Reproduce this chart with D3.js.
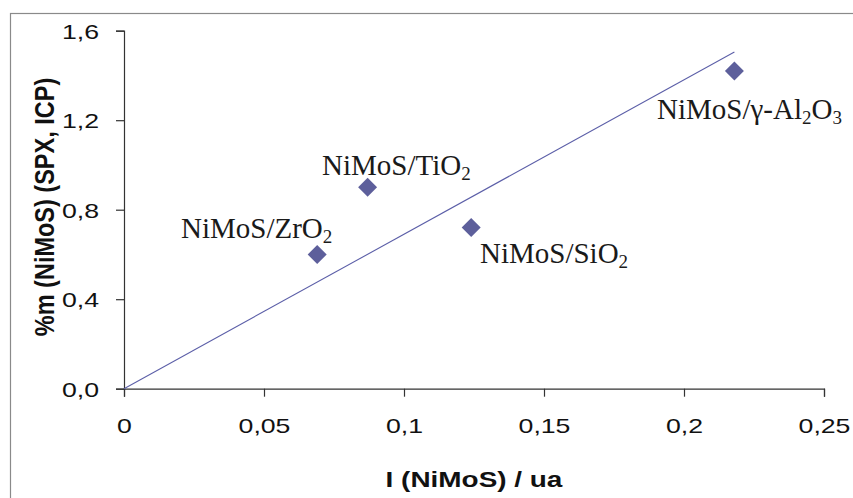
<!DOCTYPE html>
<html><head><meta charset="utf-8">
<script src="https://cdn.jsdelivr.net/npm/d3@7"></script>
<style>html,body{margin:0;padding:0;background:#fff;}svg{display:block;}</style>
</head><body>
<svg id="chart" width="853" height="498"></svg>
<script>
const xValues = [0.069, 0.087, 0.124, 0.218];
const yValues = [0.60, 0.90, 0.72, 1.42];
const pointNames = ["ZrO", "TiO", "SiO", "γ-Al"];
const fitX = [0, 0.218];
const fitY = [0, 1.505];
const xTicks = [0, 0.05, 0.1, 0.15, 0.2, 0.25];
const xTickLabels = ["0", "0,05", "0,1", "0,15", "0,2", "0,25"];
const yTicks = [0, 0.4, 0.8, 1.2, 1.6];
const yTickLabels = ["0,0", "0,4", "0,8", "1,2", "1,6"];
const xTitle = "I (NiMoS) / ua";
const yTitle = "%m (NiMoS) (SPX, ICP)";

const SX = 1.27;
const sans = "'Liberation Sans', Arial, sans-serif";
const serif = "'Liberation Serif', 'Times New Roman', serif";

const svg = d3.select("#chart");
svg.append("rect").attr("x", 10.5).attr("y", 13.5).attr("width", 860).attr("height", 500)
  .attr("fill", "none").attr("stroke", "#8a8a8a").attr("stroke-width", 1.2);

const x = d3.scaleLinear().domain([0, 0.25]).range([124, 824]);
const y = d3.scaleLinear().domain([0, 1.6]).range([388.7, 30.7]);

const xAxis = d3.axisBottom(x).tickValues(xTicks).tickFormat((d, i) => xTickLabels[i]).tickSizeOuter(0).tickSize(8);
const yAxis = d3.axisLeft(y).tickValues(yTicks).tickFormat((d, i) => yTickLabels[i]).tickSizeOuter(0).tickSize(8);

const gx = svg.append("g").attr("transform", "translate(0,388.7)").call(xAxis);
const gy = svg.append("g").attr("transform", "translate(124,0)").call(yAxis);
[gx, gy].forEach(g => {
  g.select(".domain").attr("stroke", "#333").attr("stroke-width", 1.2);
  g.selectAll(".tick line").attr("stroke", "#333").attr("stroke-width", 1.2);
  g.selectAll(".tick text").attr("font-family", sans).attr("font-size", 21).attr("fill", "#111")
    .attr("transform", `scale(${SX},1)`);
});
gx.selectAll(".tick text").attr("y", 44).attr("dy", null);
gy.selectAll(".tick text").attr("x", -25 / SX).attr("dy", "0.36em");

// fit line
svg.append("line")
  .attr("x1", x(fitX[0])).attr("y1", y(fitY[0]))
  .attr("x2", x(fitX[1])).attr("y2", y(fitY[1]))
  .attr("stroke", "#5c5fa8").attr("stroke-width", 1.1);

// points
const sym = d3.symbol().type(d3.symbolSquare).size(180);
svg.selectAll("path.pt").data(xValues).enter().append("path").attr("class", "pt")
  .attr("d", sym)
  .attr("transform", (d, i) => `translate(${x(d)},${y(yValues[i])}) rotate(45)`)
  .attr("fill", "#5d5f9b");

// labels
const labelPos = [[181, 238], [322, 175], [480, 263], [657, 119]];
pointNames.forEach((nm, i) => {
  const t = svg.append("text").attr("x", labelPos[i][0]).attr("y", labelPos[i][1])
    .attr("font-family", serif).attr("font-size", 29).attr("fill", "#1a1a1a");
  t.append("tspan").text("NiMoS/" + nm);
  if (i === 3) {
    t.append("tspan").attr("font-size", 19).attr("dy", 5).text("2");
    t.append("tspan").attr("dy", -5).text("O");
    t.append("tspan").attr("font-size", 19).attr("dy", 5).text("3");
  } else {
    t.append("tspan").attr("font-size", 19).attr("dy", 5).text("2");
  }
});

// axis titles
svg.append("text").attr("transform", `translate(474,487) scale(${SX},1)`).attr("text-anchor", "middle")
  .attr("font-family", sans).attr("font-weight", "bold").attr("font-size", 22).attr("fill", "#111")
  .text(xTitle);
svg.append("text").attr("transform", `translate(54,207) scale(1.15,1) rotate(-90)`).attr("text-anchor", "middle")
  .attr("font-family", sans).attr("font-weight", "bold").attr("font-size", 23.5).attr("fill", "#111")
  .text(yTitle);
</script>
</body></html>
